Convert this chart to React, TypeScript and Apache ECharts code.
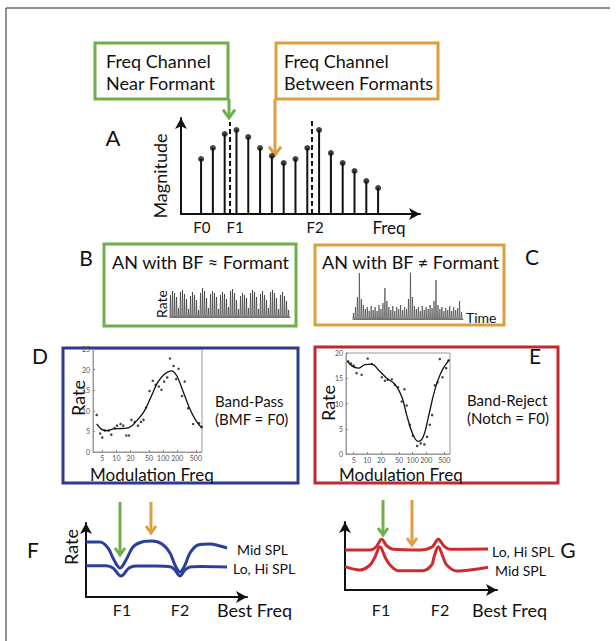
import React, { useEffect, useRef } from 'react';
import * as echarts from 'echarts';

// ---------- Panel A: harmonic spectrum ----------
const harmonicNumbers = [1, 2, 3, 4, 5, 6, 7, 8, 9, 10, 11, 12, 13, 14, 15, 16];
const harmonicMagnitudes = [55, 66, 80, 84, 77, 66, 58, 51, 55, 66, 84, 61, 51, 43, 33, 26];
const formantPositions = [3.4, 10.38];
const formantLineTops = [92, 94];
const spectrumTickPos = [1.06, 3.88, 10.66];
const spectrumTickLabels = ['F0', 'F1', 'F2'];

// ---------- Panel B / C: spike trains ----------
const spikesNearFormant = [22, 26, 24, 20, 9, 25, 27, 23, 18, 8, 21, 25, 22, 17, 7, 24, 29, 26, 19, 9, 23, 26, 24, 20, 8, 22, 25, 23, 18, 10, 26, 28, 24, 17, 8, 21, 24, 22, 19, 9, 24, 27, 25, 20, 8, 23, 26, 22, 17, 9, 25, 27, 24, 19, 8, 22, 25, 21, 16, 7];
const spikesBetweenFormants = [6, 12, 22, 46, 20, 14, 10, 12, 8, 13, 9, 12, 8, 14, 10, 16, 31, 18, 12, 9, 13, 8, 12, 10, 14, 9, 12, 10, 20, 48, 22, 13, 10, 12, 8, 13, 9, 12, 10, 14, 11, 18, 39, 14, 10, 12, 8, 11, 9, 13, 8, 12, 9, 11, 18, 7];

// ---------- Panel D: band-pass MTF ----------
const modTickHz = [5, 10, 20, 50, 100, 200, 500];
const bpFreqs = [3.8, 4.5, 5, 5.7, 6.8, 7.8, 9.2, 10.3, 12.3, 14, 16.3, 18.6, 21, 24.7, 29, 33.5, 38, 43, 51, 60, 69, 81, 92, 105, 122, 140, 166, 190, 213, 253, 288, 340, 437, 584, 667];
const bpRates = [9.0, 4.5, 3.5, 5.2, 5.2, 4.2, 5.8, 6.4, 6.8, 6.4, 4.0, 4.0, 7.8, 7.3, 6.4, 7.3, 7.8, 10.8, 14.8, 17.3, 16.3, 15.9, 15.1, 17.1, 18.1, 22.7, 20.9, 17.7, 20.2, 13.6, 17.1, 10.6, 6.8, 7.0, 6.1];
const bpFitFreqs = [3.78, 4.85, 6.25, 8.75, 13.3, 18.6, 28.2, 39.8, 55.6, 77.6, 109, 151, 195, 251, 355, 490, 670];
const bpFitRates = [6.8, 5.5, 5.2, 5.6, 5.7, 5.9, 7.8, 10, 13.5, 17.0, 19.0, 19.7, 18.5, 15.5, 11, 7.8, 5.8];

// ---------- Panel E: band-reject MTF ----------
const brFreqs = [3.8, 4.37, 5.0, 5.82, 7.5, 10.2, 12.6, 20.9, 24.5, 28.2, 34.7, 40.7, 47.9, 57.5, 66, 74, 87, 102, 126, 151, 182, 209, 240, 269, 309, 355, 398, 457, 550, 617];
const brRates = [18.3, 17.9, 17.5, 16.0, 15.7, 18.9, 17.8, 15.2, 14.5, 14.7, 14.8, 13.7, 13.2, 10.4, 12.8, 9.6, 5.8, 3.6, 1.6, 2.1, 1.9, 3.4, 5.8, 7.7, 13.6, 14.2, 18.8, 15.2, 17.0, 18.5];
const brFitFreqs = [3.63, 4.47, 6.31, 8.91, 12.6, 17.4, 26.9, 40.7, 57.5, 74.1, 102, 133, 172, 224, 309, 437, 646];
const brFitRates = [18.5, 17.5, 17.0, 17.7, 17.8, 16.7, 15.0, 13.8, 11.4, 7.7, 3.8, 2.5, 3.4, 7.4, 12.7, 16.4, 18.7];

// ---------- Panel F: rate profiles (band-pass) ----------
const fTickPos = [36, 94];
const gTickPos = [36, 95];
const bestFreqTickLabels = ['F1', 'F2'];
const fMidX = [0, 14, 22, 28, 34, 40, 47, 56, 66, 76, 84, 89, 94, 99, 104, 112, 124, 134, 141];
const fMidY = [55, 55, 49, 37, 29, 37, 50, 55, 56, 53, 44, 32, 25, 32, 44, 52, 53, 51, 49];
const fLoHiX = [0, 20, 27, 35, 43, 50, 70, 85, 89, 94, 99, 104, 115, 141];
const fLoHiY = [31.3, 31.3, 29, 21, 29, 31, 31, 30, 27, 21, 27, 30, 30.5, 30];

// ---------- Panel G: rate profiles (band-reject) ----------
const gLoHiX = [0, 25, 31, 36.7, 42, 48.3, 75, 87, 93.3, 99, 105, 143];
const gLoHiY = [40, 40, 43, 50.7, 44, 40.7, 40, 43, 50.7, 44, 40.7, 41];
const gMidX = [0, 15, 25, 30, 35, 40, 45, 53, 78, 86.7, 89, 93.3, 98, 101.7, 111.7, 125, 143];
const gMidY = [23.3, 20, 25, 33, 43.3, 33, 25, 19.3, 19.3, 25, 33, 43.3, 33, 25, 19, 20, 22.7];

const FONT = 'Lato, "Open Sans", sans-serif';
const GREEN = '#6fae49';
const ORANGE = '#dd9f3d';
const BLUE = '#2c3b8f';
const RED = '#c6262e';
const BLUE_LINE = '#2a3f9a';
const RED_LINE = '#cf2a2f';
const INK = '#111';

function txt(text: string, x: number, y: number, size: number, align = 'left', rot = 0, lineHeight?: number) {
  return {
    type: 'text', x, y, rotation: rot,
    style: { text, fontSize: size, fontFamily: FONT, fill: INK, align, verticalAlign: 'middle', lineHeight: lineHeight || Math.round(size * 1.2) },
  };
}
function box(x: number, y: number, w: number, h: number, color: string) {
  return { type: 'rect', shape: { x, y, width: w, height: h }, style: { fill: 'none', stroke: color, lineWidth: 3 } };
}
function arrowDown(x: number, y1: number, y2: number, color: string, head = 6) {
  return {
    type: 'group',
    children: [
      { type: 'line', shape: { x1: x, y1, x2: x, y2: y2 - 2 }, style: { stroke: color, lineWidth: 3 } },
      { type: 'polyline', shape: { points: [[x - head, y2 - head * 1.4], [x, y2], [x + head, y2 - head * 1.4]] }, style: { stroke: color, lineWidth: 3, fill: 'none' } },
    ],
  };
}
function spikeData(h: number[]) {
  const out: number[][] = [];
  h.forEach((v, i) => { out.push([i * 2, 0]); out.push([i * 2 + 0.5, v]); out.push([i * 2 + 1, 0]); });
  out.push([h.length * 2, 0]);
  return out;
}
const pick = (pos: number[], labels: string[]) => (v: number) => {
  let best = 0; let d = Infinity;
  pos.forEach((p, i) => { if (Math.abs(p - v) < d) { d = Math.abs(p - v); best = i; } });
  return labels[best];
};

const arrowAxis = (gridIndex: number, min: number, max: number, extra: any = {}) => ({
  gridIndex, type: 'value', min, max,
  axisLine: { show: true, onZero: false, symbol: ['none', 'arrow'], symbolSize: [9, 11], lineStyle: { color: INK, width: 2 } },
  axisTick: { show: false }, splitLine: { show: false }, axisLabel: { show: false },
  ...extra,
});
const plainAxis = (gridIndex: number, min: number, max: number, show = false) => ({
  gridIndex, type: 'value', min, max, show,
  axisLine: { show, onZero: false, lineStyle: { color: '#777', width: 1 } },
  axisTick: { show: false }, splitLine: { show: false }, axisLabel: { show: false },
});
const modXAxis = (gridIndex: number, min: number, max: number) => ({
  gridIndex, type: 'value', min, max,
  axisLine: { show: true, onZero: false, lineStyle: { color: '#999', width: 1 } },
  axisTick: { show: true, inside: true, length: 2, customValues: modTickHz.map(Math.log10), lineStyle: { color: '#888' } },
  axisLabel: { show: true, customValues: modTickHz.map(Math.log10), formatter: (v: number) => String(Math.round(Math.pow(10, v))), fontSize: 7, color: '#555', margin: 2, fontFamily: FONT },
  splitLine: { show: false },
});
const modYAxis = (gridIndex: number, max: number) => ({
  gridIndex, type: 'value', min: 0, max, interval: 5,
  axisLine: { show: true, onZero: false, lineStyle: { color: '#999', width: 1 } },
  axisTick: { show: true, inside: true, length: 2, lineStyle: { color: '#888' } },
  axisLabel: { show: true, fontSize: 7, color: '#555', margin: 3, fontFamily: FONT },
  splitLine: { show: false },
});

export default function App() {
  const ref = useRef<HTMLDivElement>(null);
  useEffect(() => {
    if (!ref.current) return;
    const chart = echarts.init(ref.current, null, { renderer: 'svg' });
    const spectrum = harmonicNumbers.map((k, i) => [k, harmonicMagnitudes[i]]);
    const option: any = {
      animation: false,
      backgroundColor: '#fff',
      grid: [
        { left: 181, top: 118, width: 239, height: 96 },
        { left: 170, top: 288, width: 120, height: 29 },
        { left: 353, top: 273, width: 110, height: 46 },
        { left: 93, top: 349, width: 109, height: 103, show: true, borderColor: '#999', borderWidth: 1 },
        { left: 346, top: 353, width: 104, height: 101, show: true, borderColor: '#999', borderWidth: 1 },
        { left: 86, top: 523, width: 161, height: 74 },
        { left: 345, top: 522, width: 152, height: 68 },
      ],
      xAxis: [
        arrowAxis(0, -0.7, 19.55, {
          axisLabel: { show: true, customValues: spectrumTickPos, formatter: pick(spectrumTickPos, spectrumTickLabels), fontSize: 15, color: INK, margin: 5, fontFamily: FONT },
        }),
        plainAxis(1, 0, spikesNearFormant.length * 2, true),
        plainAxis(2, 0, spikesBetweenFormants.length * 2, true),
        modXAxis(3, 0.5, 2.83),
        modXAxis(4, 0.53, 2.825),
        arrowAxis(5, 0, 161, {
          axisLabel: { show: true, customValues: fTickPos, formatter: pick(fTickPos, bestFreqTickLabels), fontSize: 16, color: INK, margin: 4, fontFamily: FONT },
        }),
        arrowAxis(6, 0, 152, {
          axisLabel: { show: true, customValues: gTickPos, formatter: pick(gTickPos, bestFreqTickLabels), fontSize: 16, color: INK, margin: 11, fontFamily: FONT },
        }),
      ],
      yAxis: [
        arrowAxis(0, 0, 96),
        plainAxis(1, 0, 29),
        plainAxis(2, 0, 46),
        modYAxis(3, 25),
        modYAxis(4, 20),
        arrowAxis(5, 0, 74),
        arrowAxis(6, 0, 68),
      ],
      series: [
        {
          type: 'bar', xAxisIndex: 0, yAxisIndex: 0, data: spectrum, barWidth: 2,
          itemStyle: { color: INK },
          markLine: {
            silent: true, symbol: 'none', label: { show: false },
            lineStyle: { color: INK, type: [5, 3], width: 2 },
            data: formantPositions.map((p, i) => [{ coord: [p, 0] }, { coord: [p, formantLineTops[i]] }]),
          },
        },
        { type: 'scatter', xAxisIndex: 0, yAxisIndex: 0, data: spectrum, symbolSize: 6, itemStyle: { color: INK } },
        { type: 'line', xAxisIndex: 1, yAxisIndex: 1, data: spikeData(spikesNearFormant), symbol: 'none', lineStyle: { color: '#333', width: 0.7 } },
        { type: 'line', xAxisIndex: 2, yAxisIndex: 2, data: spikeData(spikesBetweenFormants), symbol: 'none', lineStyle: { color: '#444', width: 0.7 } },
        { type: 'scatter', xAxisIndex: 3, yAxisIndex: 3, data: bpFreqs.map((f, i) => [Math.log10(f), bpRates[i]]), symbolSize: 2.5, itemStyle: { color: INK } },
        { type: 'line', xAxisIndex: 3, yAxisIndex: 3, data: bpFitFreqs.map((f, i) => [Math.log10(f), bpFitRates[i]]), smooth: 0.4, symbol: 'none', lineStyle: { color: INK, width: 1.3 } },
        { type: 'scatter', xAxisIndex: 4, yAxisIndex: 4, data: brFreqs.map((f, i) => [Math.log10(f), brRates[i]]), symbolSize: 2.5, itemStyle: { color: INK } },
        { type: 'line', xAxisIndex: 4, yAxisIndex: 4, data: brFitFreqs.map((f, i) => [Math.log10(f), brFitRates[i]]), smooth: 0.4, symbol: 'none', lineStyle: { color: INK, width: 1.3 } },
        { type: 'line', xAxisIndex: 5, yAxisIndex: 5, data: fMidX.map((x, i) => [x, fMidY[i]]), smooth: 0.35, symbol: 'none', lineStyle: { color: BLUE_LINE, width: 3 } },
        { type: 'line', xAxisIndex: 5, yAxisIndex: 5, data: fLoHiX.map((x, i) => [x, fLoHiY[i]]), smooth: 0.35, symbol: 'none', lineStyle: { color: BLUE_LINE, width: 3 } },
        { type: 'line', xAxisIndex: 6, yAxisIndex: 6, data: gLoHiX.map((x, i) => [x, gLoHiY[i]]), smooth: 0.35, symbol: 'none', lineStyle: { color: RED_LINE, width: 3 } },
        { type: 'line', xAxisIndex: 6, yAxisIndex: 6, data: gMidX.map((x, i) => [x, gMidY[i]]), smooth: 0.35, symbol: 'none', lineStyle: { color: RED_LINE, width: 3 } },
      ],
      graphic: [
        { type: 'line', shape: { x1: 6, y1: 8, x2: 6, y2: 641 }, style: { stroke: '#222', lineWidth: 1 } },
        { type: 'line', shape: { x1: 6, y1: 8, x2: 610, y2: 8 }, style: { stroke: '#222', lineWidth: 1 } },
        // Panel A
        box(95, 43, 133, 56, GREEN),
        box(276, 43, 162, 56, ORANGE),
        txt('Freq Channel\nNear Formant', 106, 72, 18, 'left', 0, 22.5),
        txt('Freq Channel\nBetween Formants', 284, 72, 18, 'left', 0, 22.5),
        arrowDown(229, 99, 118, GREEN, 6),
        arrowDown(275, 99, 155, ORANGE, 6),
        txt('A', 113, 137, 22, 'center'),
        txt('Magnitude', 160, 176, 18, 'center', Math.PI / 2),
        txt('Freq', 389, 227, 17, 'center'),
        // Panel B/C
        box(104, 244, 192, 82, GREEN),
        box(315, 245, 189, 80, ORANGE),
        txt('B', 86, 257, 21, 'center'),
        txt('C', 532, 256, 21, 'center'),
        txt('AN with BF \u2248 Formant', 112, 262, 18),
        txt('AN with BF \u2260 Formant', 322, 262, 18),
        txt('Rate', 161, 304, 14, 'center', Math.PI / 2),
        txt('Time', 466, 317, 14),
        // Panel D/E
        box(63, 348, 235, 135, BLUE),
        box(315, 347, 243, 136, RED),
        txt('D', 40, 355, 21, 'center'),
        txt('E', 535, 355, 21, 'center'),
        txt('Rate', 78, 398, 18, 'center', Math.PI / 2),
        txt('Rate', 328, 403, 18, 'center', Math.PI / 2),
        txt('Band-Pass\n(BMF = F0)', 215, 409.5, 15, 'left', 0, 18),
        txt('Band-Reject\n(Notch = F0)', 467, 408.5, 15, 'left', 0, 18),
        txt('Modulation Freq', 90, 474, 17),
        txt('Modulation Freq', 339, 474, 17),
        // Panel F/G
        txt('F', 33, 549, 21, 'center'),
        txt('G', 568, 549, 21, 'center'),
        txt('Rate', 71, 547, 18, 'center', Math.PI / 2),
        arrowDown(120, 502, 555, GREEN, 5),
        arrowDown(151, 502, 533, ORANGE, 5),
        arrowDown(383, 500, 535, GREEN, 5),
        arrowDown(412, 500, 545, ORANGE, 5),
        txt('Mid SPL', 237, 549, 14),
        txt('Lo, Hi SPL', 233, 568, 14),
        txt('Lo, Hi SPL', 492, 551, 14),
        txt('Mid SPL', 495, 570, 14),
        txt('Best Freq', 217, 610, 18),
        txt('Best Freq', 472, 610, 18),
      ],
    };
    chart.setOption(option);
    return () => chart.dispose();
  }, []);
  return <div ref={ref} style={{ position: 'absolute', left: 0, top: 0, width: 616, height: 641, background: '#fff' }} />;
}
